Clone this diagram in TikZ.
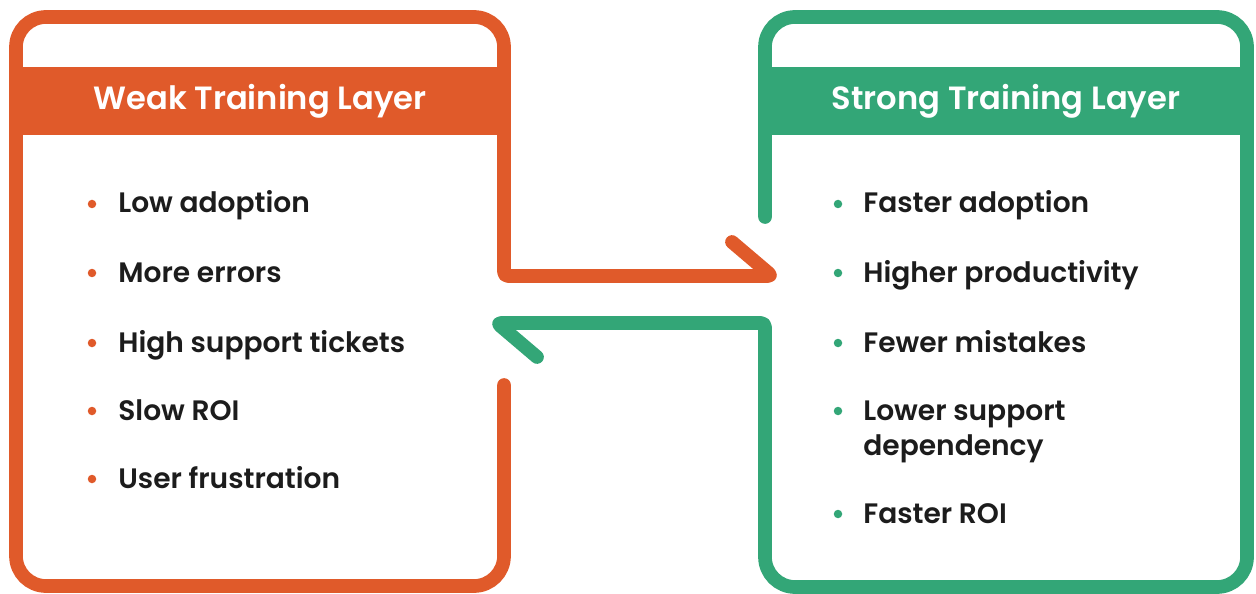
\documentclass[tikz,border=0pt]{standalone}
\usepackage{fontspec}
\setmainfont{Poppins}[BoldFont={* SemiBold}]
\usepackage{xcolor}
\definecolor{weakO}{HTML}{E05A2A}
\definecolor{strongG}{HTML}{33A677}
\definecolor{ink}{HTML}{1C1C1C}

\begin{document}
\begin{tikzpicture}[x=0.02cm, y=-0.02cm,
    frame/.style={line width=7.8pt, line cap=round, line join=round},
    header/.style={minimum height=1.36cm, inner sep=0pt, text=white,
        font=\bfseries\fontsize{18.3}{22}\selectfont},
    item/.style={anchor=base west, inner sep=0pt, text=ink, align=left,
        font=\bfseries\fontsize{16}{19.9}\selectfont}]

    \useasboundingbox (0,0) rectangle (1256,594);

    % Headers
    \node[header, fill=weakO, minimum width=9.76cm] (weakhead) at (260,101) {Weak Training Layer};
    \node[header, fill=strongG, minimum width=9.64cm] (stronghead) at (1006,101) {Strong Training Layer};

    % Frame corners and arrow ends
    \coordinate (wgap) at (504,385);
    \coordinate (wout) at (504,276);
    \coordinate (wtip) at (772,276);
    \coordinate (sgap) at (765,217);
    \coordinate (sout) at (765,323);
    \coordinate (stip) at (497,323);

    % Weak frame with arrow to the right
    \draw[frame, draw=weakO] (wgap) [rounded corners=0.6cm] -- (504,586) -- (16,586)
        -- (16,17) -- (504,17) [rounded corners=0.08cm] -- (wout) -- (wtip)
        [sharp corners] -- ++(-40,-34);

    % Strong frame with arrow to the left
    \draw[frame, draw=strongG] (sgap) [rounded corners=0.6cm] -- (765,17) -- (1247,17)
        -- (1247,587) -- (765,587) [rounded corners=0.08cm] -- (sout) -- (stip)
        [sharp corners] -- ++(40,34);

    % Weak items (last line baseline / bullet height)
    \foreach \t/\y/\b [count=\i] in {Low adoption/213/204, More errors/282/273,
        High support tickets/352/343, Slow ROI/420/411, User frustration/488/479}{
        \node[item] (w\i) at (118,\y) {\t};
        \fill[weakO] (92,\b) circle (0.085cm);
    }

    % Strong items
    \foreach \t/\y/\b [count=\i] in {Faster adoption/213/204, Higher productivity/282/273,
        Fewer mistakes/352/343, {Lower support\\dependency}/455/411, Faster ROI/523/514}{
        \node[item] (s\i) at (863,\y) {\t};
        \fill[strongG] (838,\b) circle (0.085cm);
    }

\end{tikzpicture}
\end{document}
